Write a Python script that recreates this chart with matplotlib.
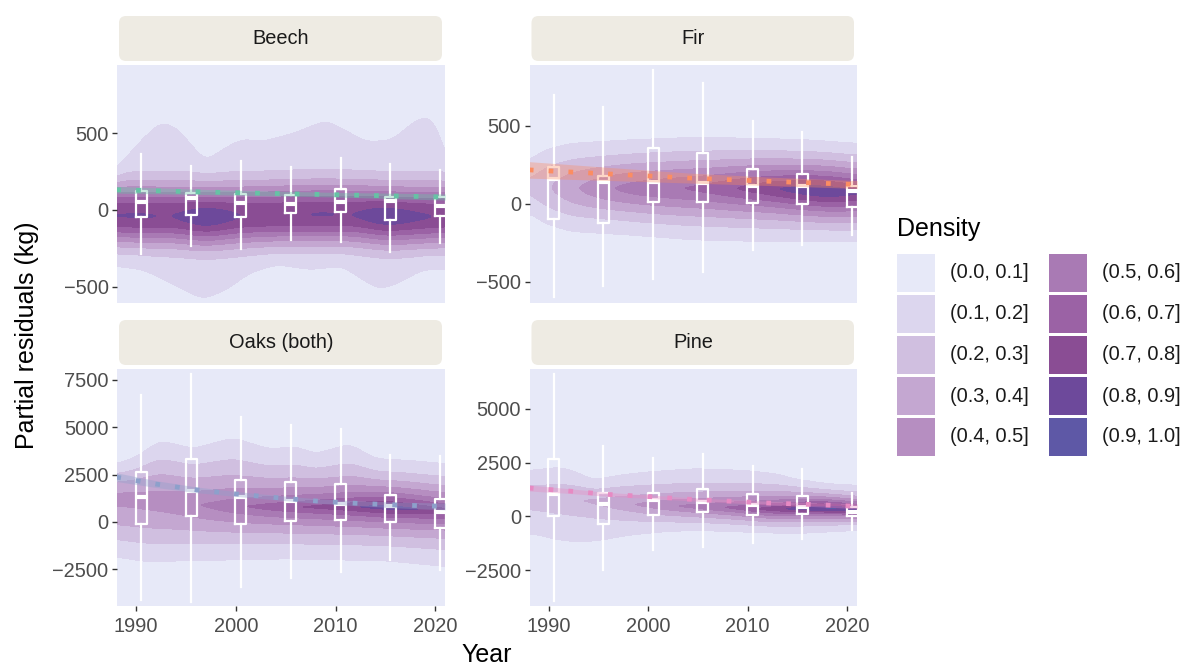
import numpy as np
import matplotlib
matplotlib.use("Agg")
import matplotlib.pyplot as plt
from matplotlib.patches import FancyBboxPatch, Rectangle
from matplotlib.transforms import IdentityTransform

plt.rcParams["font.family"] = ["Liberation Sans", "DejaVu Sans"]

W, H, DPI = 1189, 666, 100

# ------------------------------------------------------------------ data
panel_names = ["Beech", "Fir", "Oaks (both)", "Pine"]
box_years = [1990.5, 1995.5, 2000.5, 2005.5, 2010.5, 2015.5, 2020.5]
x_ticks = [1990, 2000, 2010, 2020]
x_limits = (1988.07, 2020.98)

beech_y_ticks = [-500, 0, 500]
fir_y_ticks = [-500, 0, 500]
oaks_y_ticks = [-2500, 0, 2500, 5000, 7500]
pine_y_ticks = [-2500, 0, 2500, 5000]
beech_y_limits = (-604, 945)
fir_y_limits = (-633, 891)
oaks_y_limits = (-4440, 8081)
pine_y_limits = (-4176, 6862)

# boxplot summaries (lower whisker, Q1, median, Q3, upper whisker)
beech_whislo = [-288, -238, -255, -195, -210, -275, -216]
beech_q1 = [-48, -32, -48, -22, -11, -65, -39]
beech_med = [54, 75, 43, 39, 54, 60, 28]
beech_q3 = [123, 108, 104, 97, 134, 86, 86]
beech_whishi = [362, 286, 320, 281, 336, 297, 260]

fir_whislo = [-598, -524, -483, -438, -299, -263, -203]
fir_q1 = [-98, -120, 9, 11, 4, 0, -17]
fir_med = [160, 143, 143, 137, 115, 115, 85]
fir_q3 = [239, 179, 357, 325, 224, 192, 115]
fir_whishi = [699, 620, 859, 778, 532, 463, 303]

oaks_whislo = [-4130, -4219, -3428, -2985, -2669, -2020, -2547]
oaks_q1 = [-121, 300, -84, 53, 90, 0, -316]
oaks_med = [1318, 1619, 1318, 1090, 970, 844, 527]
oaks_q3 = [2637, 3342, 2199, 2110, 2025, 1445, 1234]
oaks_whishi = [6682, 7826, 5538, 5100, 4889, 3518, 3465]

pine_whislo = [-3942, -2514, -1583, -1428, -1241, -1040, -621]
pine_q1 = [0, -341, 47, 202, 79, 124, 16]
pine_med = [1055, 590, 745, 650, 530, 434, 202]
pine_q3 = [2653, 1102, 1102, 1288, 1024, 947, 434]
pine_whishi = [6610, 3258, 2731, 2886, 2327, 2188, 1102]

# fitted trend with confidence band
beech_trend_years = [1988, 1998, 2010, 2021]
beech_trend = [131, 115, 99, 84]
beech_trend_hw = [22, 16, 15, 20]
fir_trend_years = [1988, 1996, 2004, 2012, 2021]
fir_trend = [218, 192, 166, 145, 124]
fir_trend_hw = [53, 42, 32, 27, 25]
oaks_trend_years = [1988, 1992, 1996, 2000, 2004, 2008, 2012, 2016, 2021]
oaks_trend = [2370, 2000, 1700, 1480, 1290, 1110, 990, 900, 820]
oaks_trend_hw = [230, 180, 150, 130, 120, 120, 130, 150, 180]
pine_trend_years = [1988, 1992, 1996, 2000, 2004, 2008, 2012, 2016, 2021]
pine_trend = [1320, 1180, 1020, 920, 800, 710, 620, 560, 470]
pine_trend_hw = [140, 110, 90, 80, 75, 75, 80, 90, 110]
trend_colors = ["#66C2A5", "#FC8D62", "#8DA0CB", "#E78AC3"]

# density surface: peak level, centre, spread
density_years = [1988, 1991, 1994, 1997, 2000, 2003, 2006, 2009, 2012, 2015, 2018, 2021]
beech_peak = [0.80, 0.805, 0.79, 0.88, 0.795, 0.79, 0.795, 0.805, 0.79, 0.87, 0.81, 0.79]
beech_centre = [-35, -40, -40, -50, -40, -35, -30, -30, -30, -45, -45, -40]
beech_base = [0.13] * 12
beech_spread_up = [200] * 12
beech_spread_down = [185] * 12
beech_env_top_years = [1988, 1990, 1992.4, 1994, 1995.7, 1997, 1998.5, 2000.7, 2002.5,
                       2005.7, 2009, 2011, 2013, 2015.7, 2018, 2019.5, 2020.5, 2021.2]
beech_env_top = [265, 420, 574, 541, 411, 314, 390, 465, 444,
                 498, 584, 520, 444, 455, 584, 617, 500, 300]
beech_env_bot_years = [1988, 1990.7, 1994.1, 1996.7, 1999.1, 2001.4, 2004.1, 2007.4,
                       2010.7, 2012.7, 2014.4, 2016.4, 2018.7, 2021]
beech_env_bot = [-368, -390, -498, -584, -519, -411, -357, -390,
                 -368, -455, -519, -476, -390, -390]

fir_peak = [0.20, 0.33, 0.43, 0.51, 0.56, 0.59, 0.63, 0.70, 0.77, 0.84, 0.88, 0.80]
fir_centre = [112, 105, 100, 100, 100, 100, 100, 100, 100, 90, 80, 70]
fir_base = [0.14] * 12
fir_spread_up = [260, 250, 240, 230, 220, 210, 200, 195, 185, 180, 180, 180]
fir_spread_down = [260, 250, 240, 230, 220, 210, 200, 195, 185, 180, 180, 180]
fir_env_top_years = [1988.2, 1989.5, 1992.2, 1997.9, 2004.6, 2011.3, 2016.3, 2021.0]
fir_env_top = [282, 346, 388, 410, 427, 420, 410, 388]
fir_env_bot_years = [1988.2, 1989.5, 1992.2, 1997.9, 2004.6, 2011.3, 2016.3, 2021.0]
fir_env_bot = [-60, -124, -177, -199, -231, -241, -241, -241]

oaks_peak = [0.42, 0.43, 0.45, 0.51, 0.58, 0.64, 0.69, 0.74, 0.79, 0.86, 0.81, 0.75]
oaks_centre = [1250, 1150, 1000, 870, 830, 800, 790, 800, 800, 780, 680, 560]
oaks_base = [0.38, 0.38, 0.37, 0.35, 0.33, 0.31, 0.29, 0.28, 0.27, 0.26, 0.26, 0.26]
oaks_spread_up = [1000] * 12
oaks_spread_down = [950] * 12
oaks_env_top_years = [1988.1, 1990, 1992.4, 1995.7, 1999.7, 2003.4, 2006, 2008,
                      2011.4, 2014, 2017.4, 2021]
oaks_env_top = [3080, 3430, 4309, 3870, 4450, 3850, 3990, 3600, 4130, 3340, 3250, 3080]
oaks_env_bot_years = [1988, 1991, 1995, 2000, 2005, 2010, 2015, 2021]
oaks_env_bot = [-1850, -2100, -2050, -2000, -1950, -2000, -2050, -2350]

pine_peak = [0.25, 0.28, 0.30, 0.36, 0.43, 0.50, 0.56, 0.63, 0.74, 0.84, 0.93, 0.85]
pine_centre = [900, 850, 700, 600, 520, 480, 440, 400, 330, 360, 380, 300]
pine_base = [0.18] * 12
pine_spread_up = [800, 800, 780, 760, 740, 720, 700, 690, 680, 600, 520, 480]
pine_spread_down = [700, 680, 640, 600, 570, 550, 530, 520, 510, 460, 420, 400]
pine_env_top_years = [1988.3, 1991.2, 1993.2, 1994.5, 1996.9, 1999.9, 2004.6, 2009.6,
                      2012.9, 2014.6, 2018.0, 2021.0]
pine_env_top = [2141, 2296, 1986, 1676, 1909, 2064, 2219, 2141, 1986, 1754, 1521, 1443]
pine_env_bot_years = [1988.3, 1991.2, 1993.2, 1995.2, 1997.9, 2001.2, 2004.6, 2009.6,
                      2014.6, 2018.0, 2021.0]
pine_env_bot = [-807, -1117, -1195, -1117, -885, -730, -652, -730, -807, -730, -652]

density_shape = [2.0, 1.4, 1.1, 1.2]  # Beech, Fir, Oaks, Pine

level_edges = [0.1, 0.2, 0.3, 0.4, 0.5, 0.6, 0.7, 0.8, 0.9, 1.0]
level_labels = ["(0.0, 0.1]", "(0.1, 0.2]", "(0.2, 0.3]", "(0.3, 0.4]", "(0.4, 0.5]",
                "(0.5, 0.6]", "(0.6, 0.7]", "(0.7, 0.8]", "(0.8, 0.9]", "(0.9, 1.0]"]
level_colors = ["#E7E9F8", "#DCD6EE", "#D0BFE0", "#C4A7D1", "#B68EC1",
                "#A97AB4", "#9B62A5", "#8A4D94", "#6D499B", "#5E58A6"]

# ------------------------------------------------------------------ helpers
def gsmooth(xs, v, width):
    dx = xs[1] - xs[0]
    n = max(1, int(3 * width / dx))
    t = np.arange(-n, n + 1) * dx
    k = np.exp(-0.5 * (t / width) ** 2)
    k /= k.sum()
    return np.convolve(np.pad(v, n, mode="edge"), k, mode="valid")


def density_field(xs, ys, peak, centre, base, sup, sdn, ety, et, eby, eb, p):
    I = lambda yr, v, w: gsmooth(xs, np.interp(xs, yr, v), w)
    pk = I(density_years, peak, 1.0)
    c = I(density_years, centre, 1.0)
    b = I(density_years, base, 1.0)
    su = I(density_years, sup, 1.0)
    sd = I(density_years, sdn, 1.0)
    top = I(ety, et, 0.6)
    bot = I(eby, eb, 0.6)
    ca = np.clip(pk - b, 0, None)

    def bscale(edge, sc):
        dd = np.abs(edge - c)
        ce = ca * np.exp(-(dd / sc) ** p)
        need = np.clip(0.1 - ce, 0.004, b * 0.95)
        return dd / np.sqrt(np.log(b / need))

    sbu, sbd = bscale(top, su), bscale(bot, sd)
    X, Y = np.meshgrid(xs, ys)
    d = Y - c[None, :]
    up = d >= 0
    s = np.where(up, su[None, :], sd[None, :])
    sb = np.where(up, sbu[None, :], sbd[None, :])
    return ca[None, :] * np.exp(-(np.abs(d) / s) ** p) + b[None, :] * np.exp(-(d / sb) ** 2)


# ------------------------------------------------------------------ figure
fig = plt.figure(figsize=(W / DPI, H / DPI), dpi=DPI)

# pixel boxes (left, right, top, bottom)
panel_px = [(117, 445, 65, 302.5), (529.5, 857, 65, 302.5),
            (117, 445, 369, 606), (529.5, 857, 369, 606)]
strip_px = [(16, 61), (16, 61), (320, 365), (320, 365)]

panels = [
    (beech_y_limits, beech_y_ticks, (beech_whislo, beech_q1, beech_med, beech_q3, beech_whishi),
     (beech_trend_years, beech_trend, beech_trend_hw),
     (beech_peak, beech_centre, beech_base, beech_spread_up, beech_spread_down,
      beech_env_top_years, beech_env_top, beech_env_bot_years, beech_env_bot)),
    (fir_y_limits, fir_y_ticks, (fir_whislo, fir_q1, fir_med, fir_q3, fir_whishi),
     (fir_trend_years, fir_trend, fir_trend_hw),
     (fir_peak, fir_centre, fir_base, fir_spread_up, fir_spread_down,
      fir_env_top_years, fir_env_top, fir_env_bot_years, fir_env_bot)),
    (oaks_y_limits, oaks_y_ticks, (oaks_whislo, oaks_q1, oaks_med, oaks_q3, oaks_whishi),
     (oaks_trend_years, oaks_trend, oaks_trend_hw),
     (oaks_peak, oaks_centre, oaks_base, oaks_spread_up, oaks_spread_down,
      oaks_env_top_years, oaks_env_top, oaks_env_bot_years, oaks_env_bot)),
    (pine_y_limits, pine_y_ticks, (pine_whislo, pine_q1, pine_med, pine_q3, pine_whishi),
     (pine_trend_years, pine_trend, pine_trend_hw),
     (pine_peak, pine_centre, pine_base, pine_spread_up, pine_spread_down,
      pine_env_top_years, pine_env_top, pine_env_bot_years, pine_env_bot)),
]

for i, (ylim, yticks, box, trend, dens) in enumerate(panels):
    l, r, t, b = panel_px[i]
    ax = fig.add_axes([l / W, 1 - b / H, (r - l) / W, (b - t) / H])
    ax.set_facecolor(level_colors[0])
    ax.set_xlim(*x_limits)
    ax.set_ylim(*ylim)

    xs = np.linspace(x_limits[0] - 0.5, x_limits[1] + 0.5, 420)
    ys = np.linspace(ylim[0], ylim[1], 500)
    Z = density_field(xs, ys, *dens, density_shape[i])
    ax.contourf(xs, ys, Z, levels=level_edges, colors=level_colors[1:], zorder=1)

    stats = [dict(whislo=a, q1=q1, med=m, q3=q3, whishi=e, fliers=[])
             for a, q1, m, q3, e in zip(*box)]
    ax.bxp(stats, positions=box_years, widths=1.1, showfliers=False, showcaps=False,
           manage_ticks=False,
           boxprops=dict(color="white", linewidth=1.6),
           whiskerprops=dict(color="white", linewidth=1.6),
           medianprops=dict(color="white", linewidth=3.0, solid_capstyle="butt"),
           zorder=3)

    ty, tv, th = (np.asarray(a, float) for a in trend)
    ax.fill_between(ty, tv - th, tv + th, color=trend_colors[i], alpha=0.35,
                    linewidth=0, zorder=4)
    ax.plot(ty, tv, color=trend_colors[i], linewidth=3.4, linestyle=(0, (1, 3.2)),
            dash_capstyle="butt", zorder=5)

    ax.set_xticks(x_ticks)
    ax.set_yticks(yticks)
    ax.set_xticklabels([str(v) for v in x_ticks] if i >= 2 else [])
    ax.set_yticklabels(["\u2212" + f"{-v}" if v < 0 else f"{v}" for v in yticks])
    ax.tick_params(axis="both", length=3.6, width=1.0, color="#333333",
                   labelsize=14.4, labelcolor="#4D4D4D", pad=2.5)
    ax.tick_params(axis="x", pad=4.0)
    if i < 2:
        ax.tick_params(axis="x", length=0)
    for sp in ax.spines.values():
        sp.set_visible(False)

    # strip
    st, sb_ = strip_px[i]
    fig.add_artist(FancyBboxPatch((l + 2, H - sb_), (r - l) - 5, sb_ - st,
                                  boxstyle="round,pad=0,rounding_size=7",
                                  facecolor="#EEEBE3", edgecolor="none",
                                  transform=IdentityTransform()))
    fig.text((l + r) / 2 / W, 1 - (st + sb_) / 2 / H, panel_names[i], ha="center",
             va="center", fontsize=14.4, color="#1A1A1A")

# axis titles
fig.text(487 / W, 1 - 655 / H, "Year", ha="center", va="center", fontsize=18)
fig.text(27 / W, 1 - 335 / H, "Partial residuals (kg)", ha="center", va="center",
         fontsize=18, rotation=90)

# legend
fig.text(897 / W, 1 - 229 / H, "Density", ha="left", va="center", fontsize=18)
for k, (lab, col) in enumerate(zip(level_labels, level_colors)):
    cx = 897 if k < 5 else 1049
    row = k % 5
    ty0 = 254 + row * 41
    fig.add_artist(Rectangle((cx, H - (ty0 + 37.5)), 38, 37.5, facecolor=col,
                             edgecolor="none", transform=IdentityTransform()))
    fig.text((cx + 53) / W, 1 - (ty0 + 19) / H, lab, ha="left", va="center",
             fontsize=14.4, color="#1A1A1A")

fig.savefig("out.png", dpi=DPI)
